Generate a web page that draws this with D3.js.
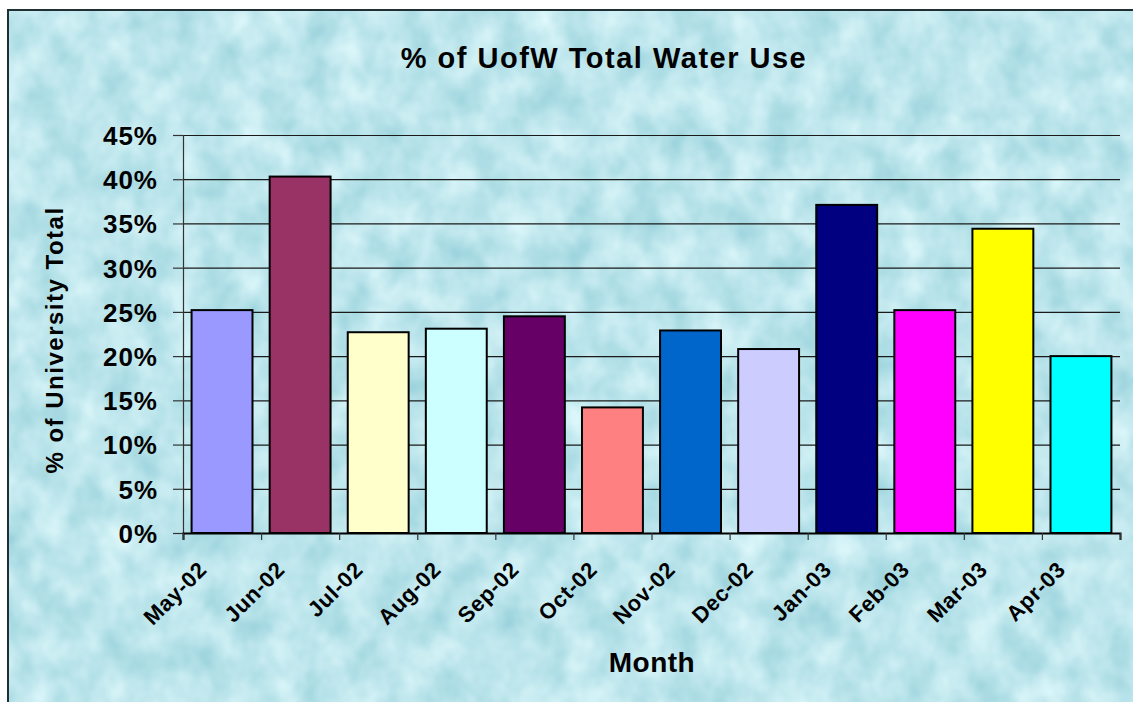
<!DOCTYPE html>
<html>
<head>
<meta charset="utf-8">
<script src="https://cdn.jsdelivr.net/npm/d3@7"></script>
<style>
  html, body { margin: 0; padding: 0; background: #fff; }
  svg { display: block; }
  text { font-family: Arial, "Liberation Sans", sans-serif; font-weight: bold; fill: #000; }
</style>
</head>
<body>
<svg id="chart" width="1133" height="702"></svg>
<script>
// data
var months = ['May-02', 'Jun-02', 'Jul-02', 'Aug-02', 'Sep-02', 'Oct-02',
              'Nov-02', 'Dec-02', 'Jan-03', 'Feb-03', 'Mar-03', 'Apr-03'];
var shares = [0.252, 0.403, 0.227, 0.231, 0.245, 0.142,
              0.229, 0.208, 0.371, 0.252, 0.344, 0.200];
var barColors = ['#9999FF', '#993366', '#FFFFCC', '#CCFFFF', '#660066', '#FF8080',
                 '#0066CC', '#CCCCFF', '#000080', '#FF00FF', '#FFFF00', '#00FFFF'];
var yTicks = [0, 0.05, 0.10, 0.15, 0.20, 0.25, 0.30, 0.35, 0.40, 0.45];

var svg = d3.select('#chart'),
    plotLeft = 183, plotRight = 1120, plotTop = 135, plotBottom = 533;

// water texture background
var defs = svg.append('defs');
var f = defs.append('filter').attr('id', 'water')
    .attr('x', 0).attr('y', 0).attr('width', 1).attr('height', 1)
    .attr('color-interpolation-filters', 'sRGB');
f.append('feTurbulence').attr('type', 'fractalNoise')
    .attr('baseFrequency', '0.03 0.025').attr('numOctaves', 3).attr('seed', 7);
f.append('feColorMatrix').attr('type', 'matrix')
    .attr('values', '0.32 0 0 0 0.58  0.18 0 0 0 0.81  0.15 0 0 0 0.85  0 0 0 0 1');

svg.append('rect')
    .attr('x', 8).attr('y', 10).attr('width', 1140).attr('height', 700)
    .attr('fill', '#bfe7ee').attr('filter', 'url(#water)');
svg.append('rect')
    .attr('x', 8).attr('y', 10).attr('width', 1140).attr('height', 700)
    .attr('fill', 'none').attr('stroke', '#1f2f33').attr('stroke-width', 2);

var x = d3.scaleBand()
      .domain(months)
      .range([plotLeft, plotRight])
      .paddingInner(0.22)
      .paddingOuter(0.11),
    xEdge = d3.scaleLinear().domain([0, months.length]).range([plotLeft, plotRight]),
    y = d3.scaleLinear().domain([0, 0.45]).range([plotBottom, plotTop]);

// gridlines
svg.append('g')
    .attr('transform', 'translate(' + plotLeft + ',0)')
    .call(d3.axisLeft(y).tickValues(yTicks.slice(1)).tickSize(-(plotRight - plotLeft)).tickFormat(''))
    .call(function(g) {
      g.select('.domain').remove();
      g.selectAll('line').attr('stroke', '#1a1a1a').attr('stroke-width', 1.2);
    });

// bars
svg.selectAll('rect.bar')
    .data(shares)
  .enter().append('rect')
    .classed('bar', true)
    .attr('x', function(d, i) { return x(months[i]); })
    .attr('y', function(d) { return y(d); })
    .attr('width', x.bandwidth())
    .attr('height', function(d) { return plotBottom - y(d); })
    .attr('fill', function(d, i) { return barColors[i]; })
    .attr('stroke', '#000')
    .attr('stroke-width', 2);

// y axis
svg.append('g')
    .attr('transform', 'translate(' + plotLeft + ',0)')
    .call(d3.axisLeft(y).tickValues(yTicks).tickSize(10).tickPadding(15).tickFormat(d3.format('.0%')))
    .call(function(g) {
      g.selectAll('line, .domain').attr('stroke', '#333').attr('stroke-width', 1.2);
      g.selectAll('text').attr('font-size', 26).attr('letter-spacing', 1)
        .attr('font-family', 'Arial, "Liberation Sans", sans-serif').attr('dy', '0.36em');
    });

// x axis ticks between categories
svg.append('g')
    .attr('transform', 'translate(0,' + plotBottom + ')')
    .call(d3.axisBottom(xEdge).tickValues(d3.range(months.length + 1)).tickSize(7).tickFormat(''))
    .call(function(g) {
      g.selectAll('line').attr('stroke', '#333').attr('stroke-width', 1.2);
      g.select('.domain').attr('stroke', '#000').attr('stroke-width', 2);
    });

// x labels
svg.append('g')
    .attr('transform', 'translate(0,' + plotBottom + ')')
    .call(d3.axisBottom(x).tickSize(0).tickPadding(0))
    .call(function(g) {
      g.select('.domain').remove();
      g.selectAll('text')
        .attr('font-size', 22).attr('letter-spacing', 0.6)
        .attr('font-family', 'Arial, "Liberation Sans", sans-serif')
        .attr('text-anchor', 'end')
        .attr('x', 0).attr('y', 0).attr('dy', 0)
        .attr('transform', 'translate(-14,38) rotate(-45)');
    });

// titles
svg.append('text')
    .attr('x', 604).attr('y', 68)
    .attr('text-anchor', 'middle')
    .attr('font-size', 29).attr('letter-spacing', 1.5)
    .text('% of UofW Total Water Use');

svg.append('text')
    .attr('x', 652).attr('y', 672)
    .attr('text-anchor', 'middle')
    .attr('font-size', 28).attr('letter-spacing', 0.5)
    .text('Month');

svg.append('text')
    .attr('transform', 'translate(63,340) rotate(-90)')
    .attr('text-anchor', 'middle')
    .attr('font-size', 24).attr('letter-spacing', 1.5)
    .text('% of University Total');
</script>
</body>
</html>
